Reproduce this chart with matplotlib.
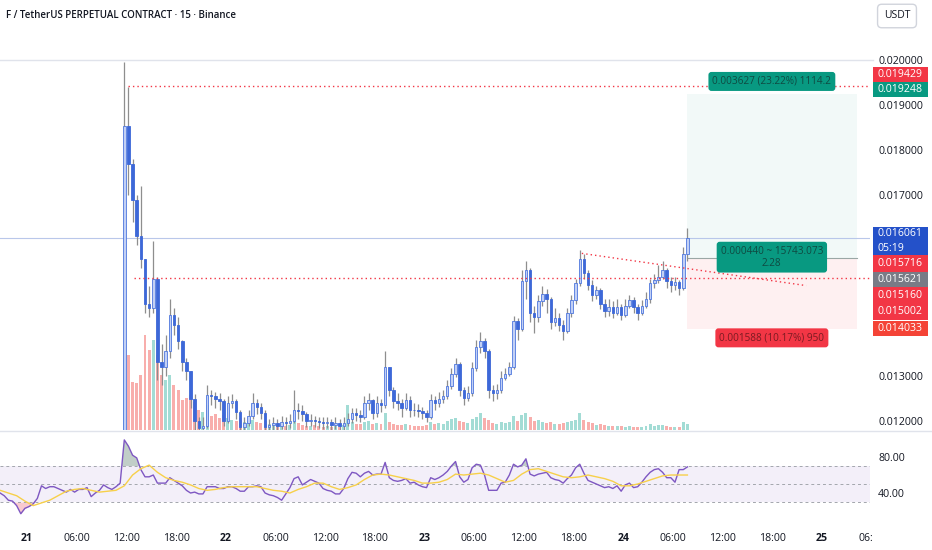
import numpy as np
import matplotlib
matplotlib.use("Agg")
import matplotlib.pyplot as plt
from matplotlib.patches import Rectangle
from matplotlib.lines import Line2D
from matplotlib.transforms import Bbox, offset_copy

plt.rcParams["font.family"] = ["Open Sans", "DejaVu Sans"]

# ── Data (prices in 1e-5 USDT, 30-min candles starting 21st 11:30) ────────────

TITLE = "F / TetherUS PERPETUAL CONTRACT · 15 · Binance"
CANDLE_T0 = 11.75          # hours since 21st 00:00, centre of first candle
OPEN0 = 1180

close = [1854, 1770, 1690, 1610, 1560, 1460, 1450, 1515, 1330, 1320,
         1355, 1436, 1414, 1377, 1330, 1310, 1250, 1200, 1185, 1190,
         1258, 1255, 1248, 1245, 1200, 1240, 1245, 1220, 1188, 1196,
         1212, 1240, 1232, 1218, 1188, 1192, 1195, 1190, 1198, 1195,
         1200, 1224, 1222, 1215, 1200, 1202, 1200, 1198, 1195, 1198,
         1192, 1195, 1190, 1195, 1205, 1217, 1214, 1210, 1240, 1246,
         1217, 1240, 1235, 1320, 1270, 1245, 1240, 1228, 1246, 1225,
         1224, 1222, 1218, 1208, 1246, 1240, 1250, 1255, 1278, 1305,
         1327, 1268, 1252, 1262, 1318, 1365, 1377, 1355, 1268, 1262,
         1268, 1296, 1305, 1320, 1421, 1403, 1510, 1535, 1440, 1430,
         1465, 1482, 1470, 1420, 1428, 1414, 1399, 1440, 1469, 1505,
         1560, 1528, 1502, 1480, 1490, 1460, 1445, 1452, 1440, 1452,
         1435, 1455, 1468, 1452, 1440, 1455, 1470, 1505, 1512, 1520,
         1535, 1510, 1502, 1508, 1495, 1570, 1606]

high = [1995, 1940, 1780, 1700, 1720, 1560, 1500, 1600, 1520, 1370,
        1390, 1470, 1450, 1430, 1380, 1340, 1310, 1260, 1210, 1210,
        1280, 1270, 1265, 1262, 1250, 1255, 1260, 1250, 1225, 1210,
        1225, 1262, 1250, 1240, 1225, 1205, 1210, 1205, 1212, 1210,
        1215, 1270, 1240, 1235, 1220, 1215, 1212, 1210, 1208, 1210,
        1205, 1208, 1205, 1208, 1218, 1228, 1228, 1225, 1255, 1262,
        1250, 1255, 1250, 1355, 1320, 1275, 1262, 1250, 1262, 1255,
        1240, 1238, 1232, 1225, 1260, 1255, 1265, 1268, 1290, 1318,
        1340, 1330, 1275, 1278, 1330, 1380, 1398, 1385, 1360, 1280,
        1282, 1310, 1318, 1330, 1432, 1428, 1535, 1555, 1540, 1455,
        1480, 1500, 1492, 1475, 1450, 1440, 1425, 1450, 1480, 1515,
        1578, 1570, 1535, 1512, 1500, 1495, 1470, 1470, 1465, 1470,
        1460, 1470, 1480, 1475, 1460, 1468, 1485, 1515, 1525, 1545,
        1555, 1540, 1520, 1520, 1512, 1585, 1628]

low = [1175, 1700, 1640, 1590, 1540, 1440, 1430, 1440, 1290, 1280,
       1300, 1340, 1390, 1360, 1310, 1290, 1230, 1180, 1170, 1170,
       1185, 1235, 1230, 1225, 1190, 1195, 1230, 1205, 1175, 1180,
       1190, 1205, 1215, 1205, 1175, 1178, 1180, 1175, 1182, 1178,
       1185, 1195, 1205, 1200, 1188, 1190, 1188, 1185, 1182, 1185,
       1180, 1182, 1178, 1180, 1190, 1195, 1200, 1198, 1205, 1225,
       1205, 1210, 1220, 1230, 1255, 1230, 1225, 1210, 1225, 1210,
       1212, 1208, 1205, 1198, 1205, 1225, 1232, 1240, 1250, 1272,
       1298, 1255, 1235, 1245, 1255, 1310, 1350, 1340, 1252, 1245,
       1250, 1262, 1290, 1300, 1315, 1380, 1400, 1470, 1420, 1395,
       1420, 1455, 1440, 1405, 1410, 1400, 1380, 1395, 1430, 1460,
       1500, 1515, 1490, 1465, 1470, 1448, 1430, 1432, 1428, 1435,
       1425, 1430, 1450, 1440, 1425, 1435, 1450, 1462, 1495, 1505,
       1515, 1495, 1485, 1490, 1480, 1490, 1555]

volume = [70, 75, 48, 47, 55, 95, 80, 90, 75, 55,
          50, 55, 45, 40, 30, 32, 35, 28, 20, 18,
          25, 14, 16, 12, 15, 12, 10, 9, 12, 8,
          9, 10, 8, 7, 9, 6, 5, 6, 5, 4,
          5, 10, 7, 5, 4, 4, 5, 4, 3, 4,
          3, 4, 3, 5, 25, 8, 6, 6, 8, 9,
          6, 7, 6, 17, 8, 6, 5, 5, 6, 5,
          4, 4, 4, 5, 8, 6, 7, 6, 9, 11,
          12, 9, 8, 7, 11, 13, 17, 12, 10, 7,
          6, 8, 7, 8, 14, 9, 15, 17, 13, 9,
          10, 8, 7, 8, 6, 6, 7, 8, 9, 10,
          17, 10, 8, 7, 5, 6, 5, 4, 4, 4,
          4, 3, 4, 3, 3, 3, 4, 6, 4, 5,
          5, 4, 3, 3, 3, 8, 6]

RSI_T0 = -3.25             # first RSI point, 30-min steps
rsi = [40, 37, 32, 31, 26, 17, 23, 25, 28, 34,
       48, 45, 47, 47, 45, 43, 41, 44, 41, 44,
       44, 46, 36, 40, 43, 49, 46, 44, 47, 51,
       99, 92, 82, 79, 66, 58, 58, 60, 51, 51,
       51, 57, 54, 51, 48, 43, 40, 41, 39, 39,
       47, 47, 47, 45, 45, 47, 47, 45, 42, 42,
       47, 47, 48, 47, 40, 38, 37, 35, 32, 39,
       46, 56, 58, 49, 52, 55, 53, 51, 45, 43,
       42, 39, 39, 45, 56, 63, 62, 58, 62, 64,
       60, 61, 61, 74, 57, 54, 53, 54, 56, 51,
       52, 49, 47, 46, 57, 55, 57, 60, 64, 70,
       75, 58, 52, 55, 68, 72, 71, 60, 43, 43,
       43, 51, 52, 60, 72, 69, 71, 78, 61, 59,
       61, 62, 63, 57, 55, 54, 51, 56, 60, 68,
       72, 62, 54, 52, 50, 48, 46, 47, 45, 48,
       42, 49, 51, 46, 47, 52, 58, 63, 66, 67,
       63, 57, 57, 52, 66, 66, 69]

# RSI moving average, hourly points from RSI_T0
rsi_ma = [43, 40, 37, 31, 26, 29, 32, 37, 42, 44,
          45, 43, 41, 42, 43, 48, 60, 67, 71, 63,
          57, 54, 52, 49, 45, 43, 44, 46, 47, 47,
          47, 47, 45, 43, 42, 40, 44, 47, 51, 51,
          47, 44, 46, 49, 55, 60, 61, 60, 58, 56,
          54, 51, 51, 52, 55, 61, 60, 61, 62, 60,
          56, 52, 54, 61, 66, 67, 64, 61, 58, 57,
          58, 60, 58, 56, 53, 48, 48, 50, 53, 56,
          59, 60, 60, 60]

# levels and drawings (USDT / hours)
LAST_PRICE = 0.016061
HLINE_HIGH = 0.019429
HLINE_MID = 0.015160
TREND = [(67.0, 0.015716), (94.1, 0.015002)]
ENTRY, TARGET, STOP = 0.015621, 0.019248, 0.014033
POS_T = (79.7, 100.2)
LBL_PROFIT = "0.003627 (23.22%) 1114.2"
LBL_MID = "0.000440 ~ 15743.073\n2.28"
LBL_LOSS = "0.001588 (10.17%) 950"

# scale ticks that are not hidden behind the coloured price tags
price_ticks = [0.012, 0.013, 0.017, 0.018, 0.019, 0.020]
time_ticks = [0, 6, 12, 18, 24, 30, 36, 42, 48, 54, 60, 66, 72, 78, 84, 90, 96]
time_labels = ["21", "06:00", "12:00", "18:00", "22", "06:00", "12:00", "18:00",
               "23", "06:00", "12:00", "18:00", "24", "06:00", "12:00", "18:00", "25"]
day_labels = {"21", "22", "23", "24", "25"}

tag_text = ["0.019429", "0.019248", "0.016061\n05:19", "0.015716",
            "0.015621", "0.015160", "0.015002", "0.014033"]
tag_color = ["#f23645", "#089981", "#2451c9", "#f23645",
             "#787b86", "#f23645", "#f23645", "#f44336"]
# label box extents, pixel rows from the top
tag_rows = [(67, 82), (82, 97), (227, 255), (255, 272),
            (272, 287), (287, 304), (304, 320), (321, 336)]

# ── Layout ────────────────────────────────────────────────────────────────────

W, H = 932, 550
XMIN, XMAX = -3.26, 101.8
TXT = "#131722"


def rect_px(x0, y0, x1, y1):
    return [x0 / W, 1 - y1 / H, (x1 - x0) / W, (y1 - y0) / H]


fig = plt.figure(figsize=(W / 100, H / 100), dpi=100)
fig.patch.set_facecolor("white")

vax = fig.add_axes(rect_px(0, 60, 870, 430))
ax = fig.add_axes(rect_px(0, 60, 870, 430))
rax = fig.add_axes(rect_px(0, 431, 870, 522))

for a in (vax, ax, rax):
    a.set_xlim(XMIN, XMAX)
    for s in a.spines.values():
        s.set_visible(False)
ax.patch.set_alpha(0)
vax.axis("off")

# ── Volume ────────────────────────────────────────────────────────────────────

c = np.array(close) * 1e-5
hi = np.array(high) * 1e-5
lo = np.array(low) * 1e-5
o = np.r_[OPEN0 * 1e-5, c[:-1]]
t = CANDLE_T0 + 0.5 * np.arange(len(c))
up = c >= o

vcol = np.where(up, "#a3dcd5", "#f8aeac")
vax.bar(t, volume, width=0.36, color=vcol, linewidth=0)
vax.set_ylim(0, 370)

# ── Candles ───────────────────────────────────────────────────────────────────

ax.vlines(t, lo, hi, color="#8e8e8e", lw=0.9, zorder=2)
ax.bar(t[up], (c - o)[up], bottom=o[up], width=0.3, color="#c2d0f5",
       edgecolor="#4f78de", linewidth=0.6, zorder=3)
ax.bar(t[~up], (o - c)[~up], bottom=c[~up], width=0.3, color="#3d68d8",
       edgecolor="#3d68d8", linewidth=0.6, zorder=3)

ax.set_ylim(0.011803, 0.019891)
ax.axhline(LAST_PRICE, color="#b9c7ea", lw=0.8, zorder=1)

dot = dict(color="#f23645", lw=1.0, ls=(0, (1, 2.2)), zorder=4)
ax.plot([12.2, XMAX], [HLINE_HIGH] * 2, **dot)
ax.plot([12.9, XMAX], [HLINE_MID] * 2, **dot)
ax.plot([p[0] for p in TREND], [p[1] for p in TREND], **dot)

# long position tool
ax.add_patch(Rectangle((POS_T[0], ENTRY), POS_T[1] - POS_T[0], TARGET - ENTRY,
                       fc="#089981", alpha=0.05, lw=0, zorder=0.5))
ax.add_patch(Rectangle((POS_T[0], STOP), POS_T[1] - POS_T[0], ENTRY - STOP,
                       fc="#f23645", alpha=0.07, lw=0, zorder=0.5))
ax.plot(POS_T, [ENTRY] * 2, color="#9aa7a5", lw=0.8, zorder=1)

mid_t = (POS_T[0] + POS_T[1]) / 2


def pos_label(y, s, fc, tc, dy):
    tr = offset_copy(ax.transData, fig=fig, x=0, y=dy, units="dots")
    ax.text(mid_t, y, s, transform=tr, ha="center", va="center", fontsize=7.2,
            color=tc, linespacing=1.1, zorder=6,
            bbox=dict(boxstyle="round,pad=0.4,rounding_size=0.3", fc=fc, ec="none"))


pos_label(TARGET, LBL_PROFIT, "#089981", "#0f4a42", 12.5)
pos_label(ENTRY, LBL_MID, "#089981", "#0f4a42", 0.5)
pos_label(STOP, LBL_LOSS, "#f23645", "#7a1b22", -8.5)

ax.yaxis.tick_right()
ax.set_yticks(price_ticks, [f"{p:.6f}" for p in price_ticks])
ax.tick_params(axis="y", length=0, pad=5.8, labelsize=7.6, labelcolor=TXT)
ax.tick_params(axis="x", bottom=False, labelbottom=False)

# ── RSI pane ──────────────────────────────────────────────────────────────────

r = np.array(rsi, dtype=float)
rt = RSI_T0 + 0.5 * np.arange(len(r))
mt = RSI_T0 + 1.0 * np.arange(len(rsi_ma))

rax.set_ylim(7.8, 108.9)
rax.axhspan(30, 70, color="#7e57c2", alpha=0.09, lw=0)
for lvl in (70, 50, 30):
    rax.axhline(lvl, color="#a3a6ad", lw=0.7, ls=(0, (3, 3)))
rax.fill_between(rt, r, 70, where=r > 70, interpolate=True, color="#8fa69c", alpha=0.55, lw=0)
rax.fill_between(rt, r, 30, where=r < 30, interpolate=True, color="#f28b96", alpha=0.45, lw=0)
rax.plot(rt, r, color="#7e57c2", lw=1.0)
rax.plot(mt, rsi_ma, color="#f7d04a", lw=1.0)

rax.yaxis.tick_right()
rax.set_yticks([40, 80], ["40.00", "80.00"])
rax.tick_params(axis="y", length=0, pad=5.8, labelsize=7.6, labelcolor=TXT)
rax.set_xticks(time_ticks, time_labels)
rax.tick_params(axis="x", length=0, pad=8, labelsize=7.6, labelcolor=TXT)
for lab in rax.get_xticklabels():
    if lab.get_text() in day_labels:
        lab.set_fontweight("bold")

# truncated label at the right edge of the time scale
cut = rax.text(102, -0.18, "06:00", transform=rax.get_xaxis_transform(),
               ha="center", va="center", fontsize=7.6, color=TXT, clip_on=True)
cut.set_clip_box(Bbox([[0, 0], [873, H]]))

# ── Frame, header, right-hand labels ──────────────────────────────────────────

fig.add_artist(Line2D([0, 873 / W], [1 - 60 / H] * 2, color="#e0e3eb", lw=1))
fig.add_artist(Line2D([0, 1], [1 - 430.5 / H] * 2, color="#e0e3eb", lw=1))

fig.text(6 / W, 1 - 15 / H, TITLE, fontsize=7.0, color=TXT, va="center", ha="left",
         fontweight="semibold")
fig.text(897 / W, 1 - 16 / H, "USDT", fontsize=7.5, color=TXT, va="center", ha="center",
         bbox=dict(boxstyle="round,pad=0.6,rounding_size=0.4", fc="white", ec="#d1d4dc", lw=1))

for s, col, (y0, y1) in zip(tag_text, tag_color, tag_rows):
    fig.add_artist(Rectangle((873 / W, 1 - y1 / H), 55 / W, (y1 - y0) / H,
                             transform=fig.transFigure, fc=col, ec="none", zorder=5))
    fig.text(877 / W, 1 - (y0 + y1) / 2 / H, s, fontsize=7.6, color="white",
             va="center", ha="left", linespacing=1.45, zorder=6)

fig.savefig("out.png", dpi=100, facecolor="white")
